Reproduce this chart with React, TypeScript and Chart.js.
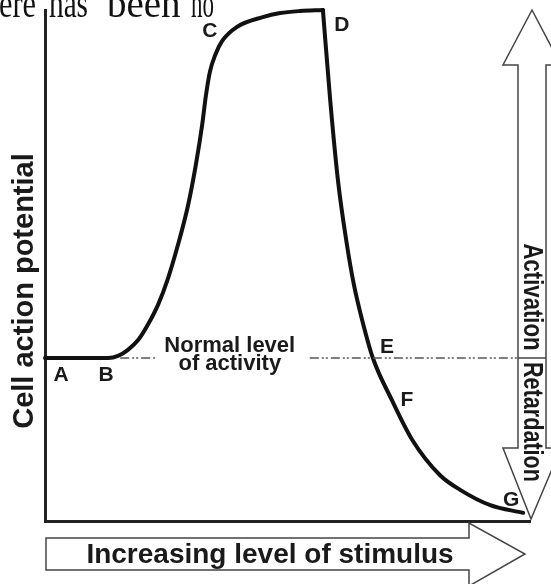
import React, { useEffect, useRef } from "react";
import { Chart, registerables } from "chart.js";

Chart.register(...registerables);

// Rising branch (A -> B -> C -> D)
const stimulusRise = [0, 13.0, 15.05, 17.1, 19.2, 21.2, 23.3, 25.4, 27.4, 29.5, 31.1, 32.4, 33.2, 34.0, 35.1, 36.5, 39.6, 44.9, 48.5, 52.6, 57.3];
const potentialRise = [31.9, 31.9, 32.3, 33.5, 35.4, 38.4, 42.3, 47.6, 54.0, 61.8, 69.7, 77.5, 83.4, 87.9, 91.2, 93.9, 96.7, 98.6, 99.4, 99.8, 100];
// Falling branch (D -> E -> F -> G)
const stimulusFall = [57.3, 58.8, 60.4, 62.1, 63.7, 65.4, 67.6, 71.5, 75.7, 81.4, 85.6, 91.8, 98.6];
const potentialFall = [100, 82.4, 66.7, 55.0, 46.2, 39.3, 31.9, 23.7, 15.9, 9.0, 6.1, 3.1, 1.6];

// Normal level of activity (dash-dot reference line)
const normalLevel = 31.9;
const normalSegmentA = [15.5, 22.7];
const normalSegmentB = [54.6, 97.3];
const normalLabelX = 38.1;
const normalLabelLines = ["Normal level", "of activity"];

// Point letters
const letters = ["A", "B", "C", "D", "E", "F", "G"];
const letterX = [3.3, 12.6, 34.0, 61.2, 70.5, 74.6, 96.1];
const letterY = [28.6, 28.6, 95.9, 97.1, 34.1, 23.7, 4.1];

const yTitle = "Cell action potential";
const xTitle = "Increasing level of stimulus";
const upLabel = "Activation";
const downLabel = "Retardation";
const topWords = ["ere", "has", "been", "no"];

const SANS = "'Liberation Sans', Arial, sans-serif";

const decorPlugin = {
  id: "decor",
  afterDraw(chart: any) {
    const ctx: CanvasRenderingContext2D = chart.ctx;
    const xs = chart.scales.x;
    const ys = chart.scales.y;
    ctx.save();

    // top cropped serif text
    ctx.fillStyle = "#111";
    ctx.font = "39px 'Liberation Serif', 'Times New Roman', serif";
    ctx.textAlign = "left";
    ctx.textBaseline = "alphabetic";
    const wx = [-1, 49, 107, 191];
    const ww = [37, 39, 75, 23];
    topWords.forEach((w, i) => ctx.fillText(w, wx[i], 17, ww[i]));

    // letters
    ctx.fillStyle = "#1a1a1a";
    ctx.font = `bold 21px ${SANS}`;
    ctx.textAlign = "center";
    ctx.textBaseline = "middle";
    letters.forEach((l, i) => {
      ctx.fillText(l, xs.getPixelForValue(letterX[i]), ys.getPixelForValue(letterY[i]));
    });

    // normal level label
    const ny = ys.getPixelForValue(normalLevel);
    const nx = xs.getPixelForValue(normalLabelX);
    ctx.font = `bold 22px ${SANS}`;
    ctx.textBaseline = "alphabetic";
    ctx.fillText(normalLabelLines[0], nx, ny - 6);
    ctx.fillText(normalLabelLines[1], nx, ny + 12);

    // y axis title
    ctx.save();
    ctx.translate(25, 291);
    ctx.rotate(-Math.PI / 2);
    ctx.font = `bold 29px ${SANS}`;
    ctx.textBaseline = "middle";
    ctx.fillStyle = "#1a1a1a";
    ctx.fillText(yTitle, 0, 0, 278);
    ctx.restore();

    // right double arrow
    ctx.lineWidth = 1.5;
    ctx.strokeStyle = "#444";
    ctx.fillStyle = "#fff";
    ctx.beginPath();
    ctx.moveTo(532, 10);
    ctx.lineTo(561, 65);
    ctx.lineTo(546, 65);
    ctx.lineTo(546, 448);
    ctx.lineTo(561, 448);
    ctx.lineTo(531, 519);
    ctx.lineTo(503, 448);
    ctx.lineTo(518, 448);
    ctx.lineTo(518, 65);
    ctx.lineTo(503, 65);
    ctx.closePath();
    ctx.fill();
    ctx.stroke();
    ctx.beginPath();
    ctx.moveTo(518, ny);
    ctx.lineTo(546, ny);
    ctx.stroke();

    ctx.fillStyle = "#1a1a1a";
    ctx.font = `bold 27px ${SANS}`;
    ctx.textAlign = "center";
    ctx.textBaseline = "middle";
    ctx.save();
    ctx.translate(532, 297);
    ctx.rotate(Math.PI / 2);
    ctx.fillText(upLabel, 0, 1, 107);
    ctx.restore();
    ctx.save();
    ctx.translate(532, 422);
    ctx.rotate(Math.PI / 2);
    ctx.fillText(downLabel, 0, 1, 120);
    ctx.restore();

    // bottom arrow
    ctx.fillStyle = "#fff";
    ctx.beginPath();
    ctx.moveTo(46, 538);
    ctx.lineTo(469, 538);
    ctx.lineTo(469, 523);
    ctx.lineTo(525, 554);
    ctx.lineTo(469, 586);
    ctx.lineTo(469, 570);
    ctx.lineTo(46, 570);
    ctx.closePath();
    ctx.fill();
    ctx.stroke();

    ctx.fillStyle = "#1a1a1a";
    ctx.font = `bold 28px ${SANS}`;
    ctx.textAlign = "center";
    ctx.textBaseline = "alphabetic";
    ctx.fillText(xTitle, 270, 563, 372);

    ctx.restore();
  },
};

export default function App() {
  const ref = useRef<HTMLCanvasElement | null>(null);
  useEffect(() => {
    if (!ref.current) return;
    const toPts = (xs: number[], ys: number[]) => xs.map((v, i) => ({ x: v, y: ys[i] }));
    const dash = [9, 3, 2, 2, 2, 3];
    const chart = new Chart(ref.current, {
      type: "line",
      data: {
        datasets: [
          {
            data: [
              { x: normalSegmentA[0], y: normalLevel },
              { x: normalSegmentA[1], y: normalLevel },
            ],
            borderColor: "#555",
            borderWidth: 1.5,
            borderDash: dash,
            pointRadius: 0,
          },
          {
            data: [
              { x: normalSegmentB[0], y: normalLevel },
              { x: normalSegmentB[1], y: normalLevel },
            ],
            borderColor: "#555",
            borderWidth: 1.5,
            borderDash: dash,
            pointRadius: 0,
          },
          {
            data: toPts(stimulusRise, potentialRise),
            borderColor: "#111",
            borderWidth: 4,
            pointRadius: 0,
            cubicInterpolationMode: "monotone",
            borderCapStyle: "round",
            borderJoinStyle: "round",
            clip: false as any,
          },
          {
            data: toPts(stimulusFall, potentialFall),
            borderColor: "#111",
            borderWidth: 4,
            pointRadius: 0,
            cubicInterpolationMode: "monotone",
            borderCapStyle: "round",
            borderJoinStyle: "round",
            clip: false as any,
          },
        ],
      },
      options: {
        animation: false,
        responsive: true,
        maintainAspectRatio: false,
        layout: { padding: { left: 45, top: 10, right: 21, bottom: 63 } },
        plugins: { legend: { display: false }, tooltip: { enabled: false }, title: { display: false } },
        scales: {
          x: {
            type: "linear",
            min: 0,
            max: 100,
            ticks: { display: false },
            grid: { display: false, drawTicks: false },
            border: { display: true, color: "#222", width: 3 },
          },
          y: {
            type: "linear",
            min: 0,
            max: 100,
            ticks: { display: false },
            grid: { display: false, drawTicks: false },
            border: { display: true, color: "#222", width: 3 },
          },
        },
      },
      plugins: [decorPlugin],
    });
    return () => chart.destroy();
  }, []);
  return (
    <div style={{ position: "absolute", left: 0, top: 0, width: 551, height: 584, background: "#fff" }}>
      <canvas ref={ref} />
    </div>
  );
}
